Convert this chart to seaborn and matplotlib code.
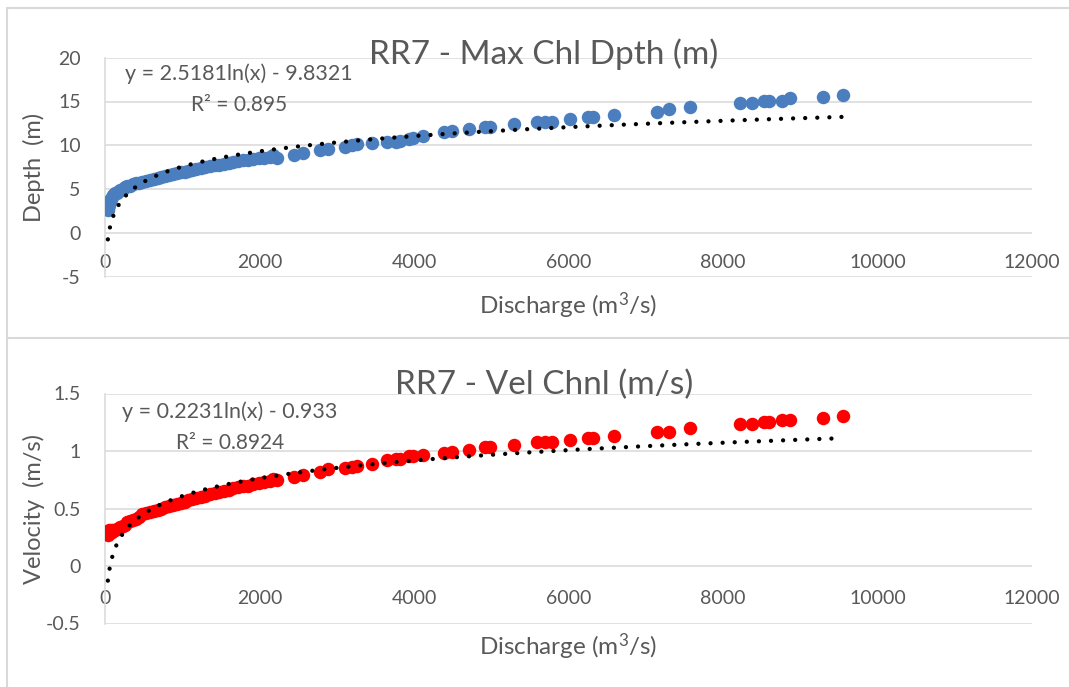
import numpy as np
import pandas as pd
import matplotlib
matplotlib.use("Agg")
import matplotlib.pyplot as plt
from matplotlib.lines import Line2D
import seaborn as sns

# Discharge (m3/s) and the matching channel readings at station RR7
discharge = [37, 40, 45, 50, 55, 60, 70, 80, 95, 110,
             130, 150, 175, 200, 230, 260, 290, 320, 360, 400,
             440, 480, 530, 580, 630, 680, 730, 780, 830, 880,
             930, 980, 1030, 1080, 1130, 1180, 1240, 1300, 1360, 1420,
             1480, 1540, 1600, 1660, 1720, 1780, 1850, 1920, 1990, 2060,
             2130, 2180, 2230,
             2450, 2560, 2783, 2891, 3107, 3200, 3258, 3452, 3650, 3765,
             3819, 3930, 3991, 4120, 4390, 4488, 4710, 4925, 4990, 5296,
             5598, 5700, 5780, 6019, 6257, 6317, 6589, 7142, 7303, 7573,
             8215, 8380, 8530, 8590, 8760, 8866, 9299, 9557]

max_depth = [2.6, 2.8, 3.0, 3.2, 3.35, 3.5, 3.7, 3.9, 4.1, 4.3,
             4.5, 4.6, 4.8, 4.95, 5.05, 5.2, 5.3, 5.4, 5.55, 5.65,
             5.75, 5.85, 5.95, 6.05, 6.15, 6.3, 6.4, 6.5, 6.6, 6.75,
             6.85, 6.95, 7.0, 7.1, 7.2, 7.3, 7.4, 7.5, 7.6, 7.7,
             7.8, 7.9, 8.0, 8.1, 8.2, 8.3, 8.35, 8.45, 8.55, 8.6,
             8.7, 8.85, 8.6,
             8.9, 9.13, 9.5, 9.6, 9.77, 10.05, 10.16, 10.28, 10.35, 10.43,
             10.54, 10.74, 10.81, 11.1, 11.56, 11.68, 11.87, 12.06, 12.06, 12.44,
             12.7, 12.65, 12.63, 13.0, 13.28, 13.28, 13.5, 13.85, 14.16, 14.42,
             14.84, 14.8, 15.02, 15.1, 15.02, 15.41, 15.56, 15.79]

velocity = [0.27, 0.30, 0.28, 0.29, 0.31, 0.29, 0.30, 0.31, 0.30, 0.31,
            0.31, 0.32, 0.33, 0.34, 0.35, 0.36, 0.38, 0.39, 0.40, 0.41,
            0.43, 0.45, 0.46, 0.47, 0.48, 0.49, 0.50, 0.51, 0.52, 0.53,
            0.54, 0.55, 0.56, 0.57, 0.58, 0.59, 0.60, 0.61, 0.625, 0.635,
            0.645, 0.655, 0.665, 0.675, 0.685, 0.695, 0.70, 0.71, 0.72, 0.73,
            0.74, 0.755, 0.75,
            0.777, 0.791, 0.82, 0.841, 0.85, 0.864, 0.87, 0.884, 0.92, 0.928,
            0.93, 0.957, 0.96, 0.965, 0.98, 0.994, 1.009, 1.032, 1.032, 1.052,
            1.081, 1.081, 1.081, 1.096, 1.116, 1.116, 1.130, 1.163, 1.163, 1.203,
            1.235, 1.235, 1.255, 1.255, 1.27, 1.27, 1.29, 1.304]

# Logarithmic trendlines: y = a*ln(x) + b
depth_fit = (2.5181, -9.8321)
depth_r2 = "0.895"
velocity_fit = (0.2231, -0.933)
velocity_r2 = "0.8924"

x_ticks = [0, 2000, 4000, 6000, 8000, 10000, 12000]
depth_ticks = [-5, 0, 5, 10, 15, 20]
velocity_ticks = [-0.5, 0, 0.5, 1, 1.5]

titles = ["RR7 - Max Chl Dpth (m)", "RR7 - Vel Chnl (m/s)"]
y_labels = ["Depth  (m)", "Velocity  (m/s)"]
x_label = "Discharge (m$^{3}$/s)"

sns.set_style("white")
plt.rcParams["font.family"] = ["Lato", "DejaVu Sans"]
plt.rcParams["axes.unicode_minus"] = False
plt.rcParams["mathtext.fontset"] = "custom"
plt.rcParams["mathtext.rm"] = "Lato"
plt.rcParams["mathtext.it"] = "Lato"
plt.rcParams["mathtext.default"] = "rm"

TEXT = "#595959"
GRID = "#d9d9d9"
W, H = 1069, 687

fig = plt.figure(figsize=(W / 100, H / 100), dpi=100)
fig.patch.set_facecolor("white")


def rect(left, top, right, bottom):
    return [left / W, 1 - bottom / H, (right - left) / W, (bottom - top) / H]


df = pd.DataFrame({"discharge": discharge, "depth": max_depth, "velocity": velocity})

panels = [
    dict(pos=rect(105, 57.7, 1032, 276.7), col="depth", color="#4a7ebf",
         fit=depth_fit, r2=depth_r2, ticks=depth_ticks, xpad=15.5,
         title_y=64, eq_x=239, eq_y=(80, 111), bottom_px=276.7, span=219,
         label_y=306),
    dict(pos=rect(105, 393.5, 1032, 623.5), col="velocity", color="#ff0000",
         fit=velocity_fit, r2=velocity_r2, ticks=velocity_ticks, xpad=17.0,
         title_y=394, eq_x=230, eq_y=(418, 449), bottom_px=623.5, span=230,
         label_y=647),
]

for i, p in enumerate(panels):
    ax = fig.add_axes(p["pos"])
    ax.set_facecolor("none")
    sns.scatterplot(data=df, x="discharge", y=p["col"], ax=ax, color=p["color"],
                    s=94, linewidth=0, alpha=1, zorder=3, legend=False)

    a, b = p["fit"]
    xs = np.linspace(min(discharge), max(discharge), 600)
    trend = pd.DataFrame({"x": xs, "y": a * np.log(xs) + b})
    sns.lineplot(data=trend, x="x", y="y", ax=ax, color="black", lw=3.1,
                 linestyle=(0, (0.01, 2.8)), dash_capstyle="round", zorder=4,
                 sort=False, estimator=None)

    ax.set_xlim(x_ticks[0], x_ticks[-1])
    ax.set_ylim(p["ticks"][0], p["ticks"][-1])
    ax.set_xticks(x_ticks)
    ax.set_xticklabels([f"{v:g}" for v in x_ticks])
    ax.set_yticks(p["ticks"])
    ax.set_yticklabels([f"{v:g}" for v in p["ticks"]])
    ax.grid(axis="y", color=GRID, lw=1.1)
    ax.grid(axis="x", visible=False)
    ax.set_axisbelow(True)

    for side in ("top", "right"):
        ax.spines[side].set_visible(False)
    ax.spines["left"].set_color(GRID)
    ax.spines["left"].set_linewidth(1.1)
    ax.spines["bottom"].set_position(("data", 0))
    ax.spines["bottom"].set_visible(False)

    ax.tick_params(axis="x", length=0, pad=p["xpad"], labelsize=14, labelcolor=TEXT)
    ax.tick_params(axis="y", length=0, pad=17.5, labelsize=14, labelcolor=TEXT)

    ax.set_xlabel(x_label, fontsize=17.5, color=TEXT, va="center")
    ax.set_ylabel(y_labels[i], fontsize=17, color=TEXT, va="center")
    ax.yaxis.set_label_coords((34 - 105) / 927, 0.5)
    ax.xaxis.set_label_coords(0.5, (p["bottom_px"] - p["label_y"]) / p["span"])

    fig.text(544 / W, 1 - p["title_y"] / H, titles[i], ha="center", va="baseline",
             fontsize=24, color=TEXT)
    eq = f"y = {a:g}ln(x) - {abs(b):g}"
    fig.text(p["eq_x"] / W, 1 - p["eq_y"][0] / H, eq, ha="center", va="baseline",
             fontsize=15.5, color=TEXT)
    fig.text(p["eq_x"] / W, 1 - p["eq_y"][1] / H, f"R\u00b2 = {p['r2']}",
             ha="center", va="baseline", fontsize=15, color=TEXT)

# Chart-area borders
for (x0, y0, x1, y1) in [(7, 8, W, 8), (7, 8, 7, H), (7, 338, W, 338)]:
    fig.add_artist(Line2D([x0 / W, x1 / W], [1 - y0 / H, 1 - y1 / H],
                          transform=fig.transFigure, color=GRID, lw=1.5))

fig.savefig("out.png", dpi=100)
